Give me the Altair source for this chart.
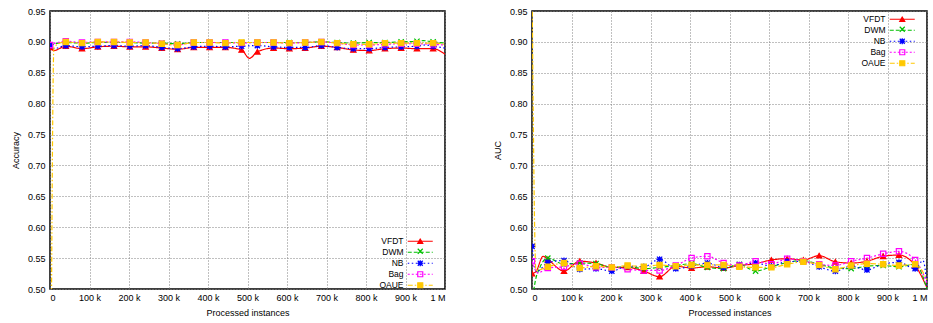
import altair as alt
import pandas as pd

# x positions (thousands of processed instances) of the sampled points / markers
X_K = [0, 40, 81, 121, 162, 202, 242, 283, 323, 364, 404, 444, 485, 525,
       566, 606, 646, 687, 727, 768, 808, 848, 889, 929, 970, 1000]

SERIES = ["VFDT", "DWM", "NB", "Bag", "OAUE"]

# ---------------- Accuracy (left panel) ----------------
ACC_VFDT = [0.891, 0.893, 0.889, 0.892, 0.893, 0.892, 0.892, 0.890, 0.888, 0.891, 0.891, 0.891, 0.887,
            0.884, 0.890, 0.889, 0.890, 0.893, 0.891, 0.887, 0.886, 0.889, 0.890, 0.889, 0.889, 0.880]
ACC_DWM = [0.895, 0.899, 0.898, 0.899, 0.899, 0.899, 0.898, 0.898, 0.897, 0.899, 0.899, 0.899, 0.899,
           0.899, 0.899, 0.899, 0.899, 0.900, 0.899, 0.898, 0.899, 0.899, 0.900, 0.901, 0.900, 0.898]
ACC_NB = [0.894, 0.894, 0.892, 0.893, 0.894, 0.893, 0.894, 0.891, 0.889, 0.892, 0.893, 0.892, 0.893,
          0.894, 0.892, 0.891, 0.891, 0.894, 0.891, 0.889, 0.889, 0.891, 0.892, 0.893, 0.893, 0.890]
ACC_BAG = [0.895, 0.901, 0.899, 0.900, 0.900, 0.900, 0.899, 0.897, 0.895, 0.899, 0.899, 0.899, 0.898,
           0.899, 0.899, 0.898, 0.899, 0.900, 0.898, 0.895, 0.895, 0.896, 0.897, 0.897, 0.896, 0.895]
ACC_OAUE = [0.000, 0.900, 0.898, 0.900, 0.900, 0.899, 0.899, 0.897, 0.895, 0.899, 0.899, 0.898, 0.899,
            0.899, 0.899, 0.898, 0.899, 0.900, 0.898, 0.896, 0.896, 0.898, 0.898, 0.898, 0.898, 0.896]
# in-between points (thousands -> value), drawn on the line only
ACC_EXTRA = {
    "VFDT": {10: 0.886, 505: 0.8734},
    "DWM": {945: 0.902},
    "NB": {10: 0.889, 950: 0.895},
    "Bag": {},
    "OAUE": {10: 0.892},
}

# ---------------- AUC (right panel) ----------------
AUC_VFDT = [0.525, 0.548, 0.529, 0.545, 0.542, 0.535, 0.535, 0.529, 0.520, 0.537, 0.534, 0.536, 0.534,
            0.538, 0.541, 0.547, 0.549, 0.547, 0.554, 0.544, 0.542, 0.545, 0.553, 0.555, 0.538, 0.502]
AUC_DWM = [0.400, 0.550, 0.540, 0.542, 0.541, 0.535, 0.536, 0.533, 0.535, 0.538, 0.541, 0.535, 0.533,
           0.540, 0.529, 0.536, 0.543, 0.546, 0.540, 0.534, 0.533, 0.537, 0.538, 0.536, 0.540, 0.500]
AUC_NB = [0.569, 0.543, 0.546, 0.532, 0.533, 0.529, 0.537, 0.536, 0.548, 0.533, 0.537, 0.542, 0.535,
          0.539, 0.542, 0.537, 0.5445, 0.5445, 0.536, 0.529, 0.537, 0.531, 0.5405, 0.543, 0.533, 0.505]
AUC_BAG = [0.545, 0.534, 0.536, 0.541, 0.535, 0.535, 0.532, 0.530, 0.530, 0.538, 0.550, 0.553, 0.542,
           0.538, 0.545, 0.540, 0.549, 0.545, 0.540, 0.538, 0.545, 0.550, 0.557, 0.561, 0.547, 0.510]
AUC_OAUE = [1.000, 0.536, 0.542, 0.534, 0.537, 0.535, 0.538, 0.536, 0.539, 0.537, 0.539, 0.539, 0.539,
            0.536, 0.535, 0.535, 0.540, 0.544, 0.539, 0.532, 0.538, 0.541, 0.540, 0.538, 0.540, 0.515]
AUC_EXTRA = {
    "VFDT": {10: 0.528, 28: 0.553},
    "DWM": {5: 0.500, 20: 0.535},
    "NB": {12: 0.528, 990: 0.546},
    "Bag": {15: 0.526},
    "OAUE": {10: 0.530},
}

Y_TICKS = [0.50, 0.55, 0.60, 0.65, 0.70, 0.75, 0.80, 0.85, 0.90, 0.95]
X_TICKS = [0, 100000, 200000, 300000, 400000, 500000, 600000, 700000, 800000, 900000, 1000000]

COLORS = ["#ff0000", "#00c000", "#0000ff", "#ff00ff", "#ffc800"]
DASHES = [[1, 0], [4, 2], [1.5, 2.5], [2, 2], [5, 2, 1.5, 2]]
SHAPES = [
    "triangle-up",
    "M-1,-1L1,1M-1,1L1,-1",
    "M-0.6,-0.6H0.6V0.6H-0.6Z M-1,-1L1,1M-1,1L1,-1M-1.2,0H1.2M0,-1.2V1.2",
    "square",
    "square",
]
FILLS = ["#ff0000", "transparent", "#0000ff", "transparent", "#ffc800"]

# marker keys differ from the series names (trailing space) so that the
# marker legend stays separate from the line legend
MARK_KEYS = [s + " " for s in SERIES]

FONT = "Liberation Sans"
LEG_FS = 8.5
SW = 1.2


def frame(base, extra):
    rows = []
    for s, vals in zip(SERIES, base):
        for xk, v in zip(X_K, vals):
            rows.append(dict(x=xk * 1000, v=v, series=s, series_m=s + " ", marker=xk < 1000))
        for xk, v in extra[s].items():
            rows.append(dict(x=xk * 1000, v=v, series=s, series_m=s + " ", marker=False))
    df = pd.DataFrame(rows)
    df["order"] = df["series"].map({s: i for i, s in enumerate(SERIES)})
    return df.sort_values(["order", "x"]).reset_index(drop=True)


def panel(df, ytitle, lx, ly):
    xenc = alt.X("x:Q", title="Processed instances",
                 scale=alt.Scale(domain=[0, 1000000], nice=False, zero=False),
                 axis=alt.Axis(values=X_TICKS,
                               labelExpr="datum.value == 0 ? '0' : datum.value >= 1000000 ? '1 M' : (datum.value / 1000) + ' k'"))
    yenc = alt.Y("v:Q", title=ytitle,
                 scale=alt.Scale(domain=[0.5, 0.95], nice=False, zero=False),
                 axis=alt.Axis(values=Y_TICKS, format=".2f"))

    line_leg = alt.Legend(title=None, orient="none", legendX=lx, legendY=ly,
                          symbolType="M-5,0H5", symbolSize=25, symbolStrokeWidth=SW,
                          labelAlign="right", labelOffset={"expr": "-21"}, padding=0,
                          rowPadding=2,
                          labelFontSize=LEG_FS, labelFont=FONT, labelColor="black")
    mark_leg = alt.Legend(title=None, orient="none", legendX=lx, legendY=ly,
                          symbolSize=25, symbolStrokeWidth=SW, padding=0,
                          rowPadding=0, labelExpr="''",
                          labelFontSize=LEG_FS, labelFont=FONT)

    lines = alt.Chart(df).mark_line(clip=True, strokeWidth=SW, interpolate="monotone").encode(
        x=xenc, y=yenc,
        color=alt.Color("series:N", scale=alt.Scale(domain=SERIES, range=COLORS), legend=line_leg),
        strokeDash=alt.StrokeDash("series:N", scale=alt.Scale(domain=SERIES, range=DASHES), legend=line_leg),
    )
    points = alt.Chart(df).transform_filter("datum.marker").mark_point(
        clip=True, filled=True, strokeWidth=SW, opacity=1, size=28).encode(
        x=xenc, y=yenc,
        shape=alt.Shape("series_m:N", scale=alt.Scale(domain=MARK_KEYS, range=SHAPES), legend=mark_leg),
        fill=alt.Fill("series_m:N", scale=alt.Scale(domain=MARK_KEYS, range=FILLS), legend=mark_leg),
        stroke=alt.Stroke("series_m:N", scale=alt.Scale(domain=MARK_KEYS, range=COLORS), legend=mark_leg),
    )
    return alt.layer(lines, points).properties(width=395, height=278)


acc_df = frame([ACC_VFDT, ACC_DWM, ACC_NB, ACC_BAG, ACC_OAUE], ACC_EXTRA)
auc_df = frame([AUC_VFDT, AUC_DWM, AUC_NB, AUC_BAG, AUC_OAUE], AUC_EXTRA)

left = panel(acc_df, "Accuracy", 366, 226)
right = panel(auc_df, "AUC", 366, 4)

chart = alt.hconcat(left, right, spacing=46).resolve_scale(
    color="independent", strokeDash="independent", shape="independent",
    fill="independent", stroke="independent",
).resolve_legend(
    color="independent", strokeDash="independent", shape="independent",
    fill="independent", stroke="independent",
).properties(
    padding={"left": 10, "top": 6, "right": 0, "bottom": 0},
    background="white",
).configure_axis(
    labelFont=FONT, labelFontSize=9, labelColor="black",
    titleFont=FONT, titleFontSize=9, titleFontWeight="normal", titleColor="black",
    grid=True, gridColor="#808080", gridDash=[1, 2], gridWidth=1,
    ticks=False, domain=False, labelPadding=5,
).configure_axisY(titlePadding=7).configure_axisX(titlePadding=6, labelPadding=4).configure_view(
    stroke="black", strokeWidth=1.5,
)

chart.save("out.html", embed_options={"renderer": "svg", "actions": False})
